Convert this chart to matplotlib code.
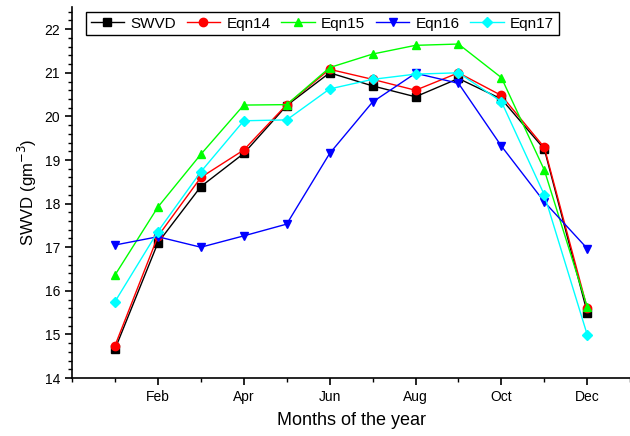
import matplotlib
matplotlib.use("Agg")
from matplotlib import pyplot as plt
from matplotlib.ticker import MultipleLocator
import numpy as np

plt.rcParams['font.family'] = ['Liberation Sans', 'DejaVu Sans']

# monthly surface water vapour density, Jan..Dec
months = np.arange(1, 13)
month_labels = ['Feb', 'Apr', 'Jun', 'Aug', 'Oct', 'Dec']

swvd  = [14.66, 17.10, 18.39, 19.15, 20.25, 21.00, 20.70, 20.45, 20.87, 20.40, 19.25, 15.50]
eqn14 = [14.74, 17.25, 18.60, 19.23, 20.27, 21.08, 20.85, 20.60, 21.00, 20.48, 19.29, 15.60]
eqn15 = [16.36, 17.92, 19.13, 20.26, 20.27, 21.12, 21.43, 21.63, 21.66, 20.89, 18.77, 15.63]
eqn16 = [17.05, 17.24, 17.00, 17.26, 17.53, 19.15, 20.33, 20.99, 20.76, 19.32, 18.04, 16.97]
eqn17 = [15.75, 17.36, 18.73, 19.90, 19.92, 20.63, 20.85, 20.97, 21.00, 20.34, 18.20, 14.99]

series = [
    ('SWVD',  swvd,  'black',   's'),
    ('Eqn14', eqn14, '#ff0000', 'o'),
    ('Eqn15', eqn15, '#00ff00', '^'),
    ('Eqn16', eqn16, '#0000ff', 'v'),
    ('Eqn17', eqn17, '#00ffff', 'D'),
]

fig = plt.figure(figsize=(6.3, 4.36), dpi=100)
ax = fig.add_axes([0.1143, 0.133, 0.886, 0.850])

for name, vals, col, mk in series:
    ms = 6 if mk != 'D' else 5.5
    ax.plot(months, vals, color=col, marker=mk, markersize=ms, linewidth=1.0,
            markeredgecolor=col, label=name)

ax.set_xlim(0, 13)
ax.set_ylim(14, 22.5)
ax.set_xticks(months[1::2])
ax.set_xticklabels(month_labels)
ax.xaxis.set_minor_locator(MultipleLocator(1))
ax.yaxis.set_major_locator(MultipleLocator(1))
ax.yaxis.set_minor_locator(MultipleLocator(0.2))

ax.spines['top'].set_visible(False)
ax.spines['right'].set_visible(False)
for sp in ('left', 'bottom'):
    ax.spines[sp].set_linewidth(1.2)

ax.tick_params(axis='both', which='major', direction='out', length=5, width=1.2,
               labelsize=10)
ax.tick_params(axis='both', which='minor', direction='out', length=3, width=1.0)

ax.set_xlabel('Months of the year', fontsize=13, labelpad=6)
ax.set_ylabel('SWVD (gm$^{-3}$)', fontsize=12, labelpad=4)

leg = ax.legend(loc='upper left', bbox_to_anchor=(86 / 630, 1 - 12 / 436),
                bbox_transform=fig.transFigure, borderaxespad=0, ncol=5,
                fontsize=11, handlelength=2.2, handletextpad=0.4,
                columnspacing=0.7, borderpad=0.3, fancybox=False,
                framealpha=1, edgecolor='black')
leg.get_frame().set_linewidth(1.0)

fig.savefig('out.png', dpi=100)
